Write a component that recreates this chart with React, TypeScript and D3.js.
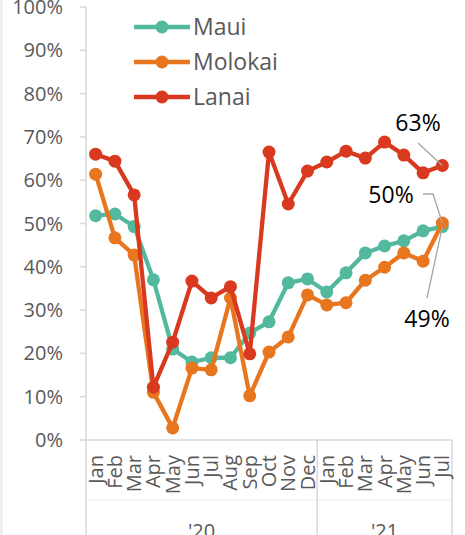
import * as d3 from 'd3';

const months = ['Jan','Feb','Mar','Apr','May','Jun','Jul','Aug','Sep','Oct','Nov','Dec','Jan','Feb','Mar','Apr','May','Jun','Jul'];
const years = [{ label: "'20", n: 12 }, { label: "'21", n: 7 }];
const maui = [51.8, 52.2, 49.3, 37, 21, 18, 19, 19, 24.7, 27.3, 36.3, 37.2, 34.2, 38.6, 43.2, 44.8, 46, 48.3, 49.3];
const molokai = [61.4, 46.7, 42.7, 11, 2.8, 16.6, 16.2, 32.8, 10.2, 20.3, 23.8, 33.5, 31.2, 31.7, 36.9, 39.9, 43.2, 41.3, 50.1];
const lanai = [66, 64.4, 56.6, 12.2, 22.6, 36.7, 32.8, 35.4, 19.9, 66.5, 54.5, 62.1, 64.2, 66.7, 65.1, 68.8, 65.8, 61.7, 63.4];
const yTicks = [0, 10, 20, 30, 40, 50, 60, 70, 80, 90, 100];

const series = [
  { name: 'Maui', values: maui, color: '#52b99e' },
  { name: 'Molokai', values: molokai, color: '#e8761f' },
  { name: 'Lanai', values: lanai, color: '#d8391f' },
];

const W = 465, H = 535;
const FONT = '"Open Sans", sans-serif';
const AXIS = '#d9d9d9';
const TXT = '#595959';

export default function App() {
  const left = 86, right = 452, top = 7, bottom = 440;
  const x = d3.scaleBand<number>().domain(d3.range(months.length)).range([left, right]);
  const cx = (i: number) => x(i)! + x.bandwidth() / 2;
  const y = d3.scaleLinear().domain([0, 100]).range([bottom, top]);
  const line = d3.line<number>().x((_, i) => cx(i)).y(v => y(v));

  // group boundaries on the category axis
  let acc = 0;
  const groups = years.map(g => {
    const s = acc; acc += g.n;
    return { ...g, x0: x(s)!, x1: s + g.n < months.length ? x(s + g.n)! : right };
  });

  const last = months.length - 1;
  const lx = cx(last);

  return (
    <svg width={W} height={H} style={{ position: 'absolute', left: 0, top: 0, background: '#fff' }} fontFamily={FONT}>
      <rect x={0} y={0} width={3} height={H} fill="#f0f0f0" />
      {/* y axis */}
      <line x1={left} x2={left} y1={top} y2={bottom} stroke={AXIS} strokeWidth={1.5} />
      {yTicks.map(t => (
        <g key={t}>
          <line x1={left - 6} x2={left} y1={y(t)} y2={y(t)} stroke={AXIS} strokeWidth={1.5} />
          <text x={63} y={y(t)} dy="0.35em" textAnchor="end" fontSize={20} fill={TXT}>{t}%</text>
        </g>
      ))}
      {/* category axis */}
      <line x1={left} x2={right} y1={bottom} y2={bottom} stroke={AXIS} strokeWidth={1.5} />
      <line x1={left} x2={right} y1={500} y2={500} stroke="#ececec" strokeWidth={1} />
      {groups.map((g, i) => (
        <g key={i}>
          <line x1={g.x0} x2={g.x0} y1={bottom} y2={H} stroke={AXIS} strokeWidth={1.5} />
          <text x={(g.x0 + g.x1) / 2} y={538} textAnchor="middle" fontSize={20} fill={TXT}>{g.label}</text>
        </g>
      ))}
      <line x1={right} x2={right} y1={bottom} y2={H} stroke={AXIS} strokeWidth={1.5} />
      {months.map((m, i) => (
        <text key={i} transform={`translate(${cx(i)},455) rotate(-90)`} dy="0.35em" textAnchor="end" fontSize={20} fill={TXT}>{m}</text>
      ))}
      {/* series */}
      {series.map(s => (
        <g key={s.name}>
          <path d={line(s.values)!} fill="none" stroke={s.color} strokeWidth={4.3} strokeLinejoin="round" />
          {s.values.map((v, i) => <circle key={i} cx={cx(i)} cy={y(v)} r={6.5} fill={s.color} />)}
        </g>
      ))}
      {/* legend */}
      {series.map((s, i) => (
        <g key={s.name} transform={`translate(134,${27 + i * 35})`}>
          <line x1={0} x2={56} y1={0} y2={0} stroke={s.color} strokeWidth={4.3} />
          <circle cx={28} cy={0} r={6.5} fill={s.color} />
          <text x={59} y={0} dy="0.35em" fontSize={23} fill={TXT}>{s.name}</text>
        </g>
      ))}
      {/* data labels with leader lines */}
      <polyline points={`418,143 ${lx},${y(lanai[last])}`} fill="none" stroke="#a6a6a6" strokeWidth={1.3} />
      <text x={418} y={131} textAnchor="middle" fontSize={23} fill="#000">{Math.round(lanai[last])}%</text>
      <polyline points={`423,194 433,194 ${lx},${y(molokai[last])}`} fill="none" stroke="#a6a6a6" strokeWidth={1.3} />
      <text x={391} y={203} textAnchor="middle" fontSize={23} fill="#000">{Math.round(molokai[last])}%</text>
      <polyline points={`427,298 ${lx},${y(maui[last])}`} fill="none" stroke="#a6a6a6" strokeWidth={1.3} />
      <text x={427} y={327} textAnchor="middle" fontSize={23} fill="#000">{Math.round(maui[last])}%</text>
    </svg>
  );
}
